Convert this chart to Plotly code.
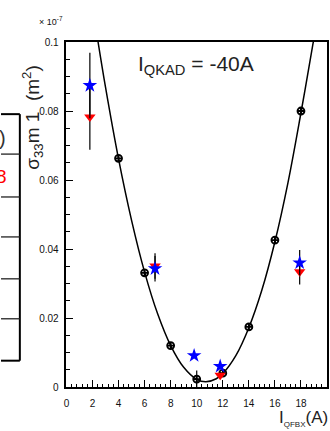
import plotly.graph_objects as go

# ---- data ----
fit_x = [2.4, 3, 4, 5, 6, 7, 8, 9, 10, 10.7, 11.5, 12, 13, 14, 15, 16, 17, 18, 18.9, 19.0]
fit_y = [0.1007, 0.0869, 0.0661, 0.0483, 0.0333, 0.0212, 0.0120, 0.0057, 0.0022, 0.0015,
         0.0024, 0.0039, 0.0091, 0.0172, 0.0281, 0.0421, 0.0592, 0.0795, 0.0990, 0.1012]

meas_x = [4, 6, 8, 10, 12, 14, 16, 18]
meas_y = [0.0663, 0.0331, 0.0120, 0.0023, 0.0040, 0.0174, 0.0426, 0.0800]
meas_err = [0.0005, 0.0005, 0.0005, 0.0025, 0.0005, 0.0005, 0.0005, 0.0005]

star_x = [1.8, 6.8, 9.8, 11.8, 17.9]
star_y = [0.0874, 0.0343, 0.0091, 0.0060, 0.0360]
star_err = [0.0095, 0.0037, 0.0, 0.0, 0.0037]

tri_x = [1.8, 6.8, 11.8, 17.9]
tri_y = [0.0783, 0.0351, 0.0034, 0.0334]
tri_err = [0.0095, 0.0037, 0.0010, 0.0037]

x_ticks = [0, 2, 4, 6, 8, 10, 12, 14, 16, 18, 20]
y_ticks = [0, 0.02, 0.04, 0.06, 0.08, 0.1]

W, H = 330, 431
def px(x):
    return x / W
def py(y):
    return 1 - y / H

fig = go.Figure()

fig.add_trace(go.Scatter(x=fit_x, y=fit_y, mode="lines", line=dict(color="black", width=1.5, shape="spline"),
                         showlegend=False, hoverinfo="skip"))
fig.add_trace(go.Scatter(x=meas_x, y=meas_y, mode="markers",
                         marker=dict(symbol="circle-cross-open", size=7, color="black",
                                     line=dict(color="black", width=1.8)),
                         error_y=dict(type="data", array=meas_err, color="black", thickness=1.2, width=0),
                         showlegend=False))
fig.add_trace(go.Scatter(x=tri_x, y=tri_y, mode="markers",
                         marker=dict(symbol="triangle-down", size=10, color="#ff0000"),
                         error_y=dict(type="data", array=tri_err, color="black", thickness=1.2, width=0),
                         showlegend=False))
fig.add_trace(go.Scatter(x=star_x, y=star_y, mode="markers",
                         marker=dict(symbol="star", size=11, color="#0000ff"),
                         error_y=dict(type="data", array=star_err, color="black", thickness=1.2, width=0),
                         showlegend=False))

axfont = dict(family="Liberation Sans, Arial, sans-serif", size=10, color="#111")

fig.update_xaxes(domain=[px(64), px(327)], range=[0, 20], tickvals=x_ticks,
                 ticktext=[str(v) for v in x_ticks], ticks="inside", ticklen=7, tickwidth=1,
                 tickcolor="black", showline=True, linecolor="black", linewidth=1.5, mirror=True,
                 showgrid=False, zeroline=False, tickfont=axfont, ticklabelstandoff=6,
                 minor=dict(dtick=0.4, ticks="inside", ticklen=3.5, tickcolor="black", showgrid=False))
fig.update_yaxes(domain=[py(392), py(38)], range=[0, 0.1], tickvals=y_ticks,
                 ticktext=["0", "0.02", "0.04", "0.06", "0.08", "0.1"], ticks="inside", ticklen=7,
                 tickwidth=1, tickcolor="black", showline=True, linecolor="black", linewidth=1.5,
                 mirror=True, showgrid=False, zeroline=False, tickfont=axfont, ticklabelstandoff=4,
                 minor=dict(dtick=0.005, ticks="inside", ticklen=3.5, tickcolor="black", showgrid=False))

shapes = []
# partial table at left edge
shapes.append(dict(type="line", xref="paper", yref="paper", x0=px(-2), x1=px(17), y0=py(112), y1=py(112),
                   line=dict(color="black", width=2)))
shapes.append(dict(type="line", xref="paper", yref="paper", x0=px(17), x1=px(17), y0=py(112), y1=py(365),
                   line=dict(color="black", width=2)))
shapes.append(dict(type="line", xref="paper", yref="paper", x0=px(-2), x1=px(17), y0=py(365), y1=py(365),
                   line=dict(color="black", width=2)))
for yy in [153, 197, 238, 281, 322]:
    shapes.append(dict(type="line", xref="paper", yref="paper", x0=px(-2), x1=px(17), y0=py(yy), y1=py(yy),
                       line=dict(color="#222", width=1.3)))

annotations = [
    dict(text=")", x=px(5), y=py(136), xref="paper", yref="paper", xanchor="right", yanchor="middle",
         showarrow=False, font=dict(family="Liberation Sans, Arial", size=20, color="#333")),
    dict(text="8", x=px(6), y=py(176), xref="paper", yref="paper", xanchor="right", yanchor="middle",
         showarrow=False, font=dict(family="Liberation Sans, Arial", size=19, color="#ff0000")),
    dict(text="× 10<sup>-7</sup>", x=px(34), y=py(16), xref="paper", yref="paper", xanchor="left",
         yanchor="middle", showarrow=False, font=dict(family="Liberation Sans, Arial", size=9, color="#111")),
    dict(text="σ<sub>33</sub>m 1  (m<sup>2</sup>)", x=px(29), y=py(115), xref="paper", yref="paper",
         xanchor="center", yanchor="middle", textangle=-90, showarrow=False,
         font=dict(family="Liberation Sans, Arial", size=19, color="#222")),
    dict(text="I<sub>QKAD</sub> = -40A", x=px(195), y=py(62), xref="paper", yref="paper",
         xanchor="center", yanchor="middle", showarrow=False,
         font=dict(family="Liberation Sans, Arial", size=21, color="#222")),
    dict(text="I<sub><span style='font-size:8px'>QFBX</span></sub>(A)", x=px(330), y=py(424), xref="paper",
         yref="paper", xanchor="right", yanchor="middle", showarrow=False,
         font=dict(family="Liberation Sans, Arial", size=17, color="#222")),
]

fig.update_layout(width=W, height=H, margin=dict(l=0, r=0, t=0, b=0), paper_bgcolor="white",
                  plot_bgcolor="white", shapes=shapes, annotations=annotations, showlegend=False)

fig.write_html("out.html")
